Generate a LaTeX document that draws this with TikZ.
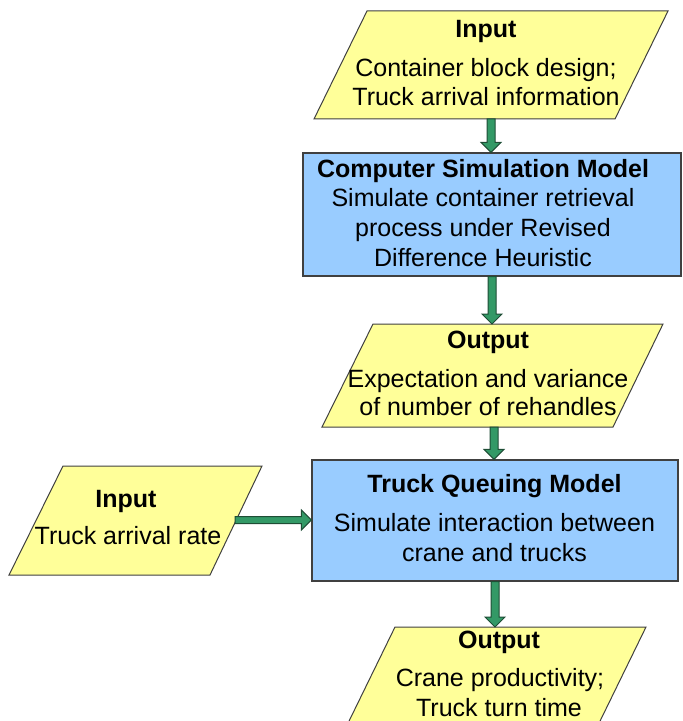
\documentclass[tikz,border=0pt]{standalone}
\usepackage{fontspec}
\setmainfont{Liberation Sans}
\usetikzlibrary{calc}
\definecolor{inyellow}{HTML}{FFFF99}
\definecolor{procblue}{HTML}{99CCFF}
\definecolor{arrgreen}{HTML}{339966}
\definecolor{arrdark}{HTML}{1E4D35}
\definecolor{edgegray}{HTML}{404040}
\newcommand{\downblockarrow}[2]{%
  \draw[blockarrow] let \p1=(#1),\p2=(#2) in
    (\x1-2pt,\y1) -- (\x1-2pt,\y2+5pt) -- (\x1-5pt,\y2+5pt) -- (\x1,\y2)
    -- (\x1+5pt,\y2+5pt) -- (\x1+2pt,\y2+5pt) -- (\x1+2pt,\y1) -- cycle;}
\newcommand{\rightblockarrow}[2]{%
  \draw[blockarrow] let \p1=(#1),\p2=(#2) in
    (\x1,\y1+1.75pt) -- (\x2-5pt,\y1+1.75pt) -- (\x2-5pt,\y1+5pt) -- (\x2,\y1)
    -- (\x2-5pt,\y1-5pt) -- (\x2-5pt,\y1-1.75pt) -- (\x1,\y1-1.75pt) -- cycle;}
\begin{document}
\begin{tikzpicture}[x=0.5pt,y=-0.5pt,
  iobox/.style={fill=inyellow,draw=edgegray,line width=0.5pt},
  procbox/.style={rectangle,fill=procblue,draw=edgegray,line width=0.6pt,inner sep=0pt},
  blockarrow/.style={fill=arrgreen,draw=arrdark,line width=0.5pt,line join=miter},
  title/.style={anchor=base,inner sep=0pt,font=\fontsize{12.5}{15}\selectfont\bfseries},
  body/.style={anchor=base,inner sep=0pt,font=\fontsize{12.5}{15}\selectfont}]
\useasboundingbox (0,0) rectangle (682,721);
\clip (0,0) rectangle (682,721);
% shapes
\filldraw[iobox] (367,11) -- (668,11) -- (615,119) -- (314,119) -- cycle;
\node[procbox,minimum width=189pt,minimum height=61.5pt] (box1) at (492,214.5) {};
\filldraw[iobox] (373,324) -- (663,324) -- (613,427) -- (322,427) -- cycle;
\node[procbox,minimum width=183pt,minimum height=60.5pt] (box2) at (495,520.5) {};
\filldraw[iobox] (63,466) -- (262,466) -- (210,575) -- (9,575) -- cycle;
\filldraw[iobox] (395,627) -- (646,627) -- (581,760) -- (330,760) -- cycle;
% connector end points
\coordinate (in1s) at (491,119);
\coordinate (out1n) at (492,324);
\coordinate (out1s) at (494,427);
\coordinate (in2e) at (235,520);
\coordinate (out2n) at (495,627);
% arrows
\downblockarrow{in1s}{box1.north}
\downblockarrow{box1.south}{out1n}
\downblockarrow{out1s}{box2.north}
\downblockarrow{box2.south}{out2n}
\rightblockarrow{in2e}{box2.west}
% texts
\node[title] (in1t) at (486,38) {Input};
\node[body] (in1a) at (486,77) {Container block design;};
\node[body] (in1b) at (486,106) {Truck arrival information};
\node[title] (b1t) at (483,178) {Computer Simulation Model};
\node[body] (b1a) at (483,207) {Simulate container retrieval};
\node[body] (b1b) at (483,237) {process under Revised};
\node[body] (b1c) at (483,267) {Difference Heuristic};
\node[title] (o1t) at (488,348) {Output};
\node[body] (o1a) at (488,387) {Expectation and variance};
\node[body] (o1b) at (488,415) {of number of rehandles};
\node[title] (b2t) at (494.5,492) {Truck Queuing Model};
\node[body] (b2a) at (494.5,531) {Simulate interaction between};
\node[body] (b2b) at (494.5,561) {crane and trucks};
\node[title] (in2t) at (126,507) {Input};
\node[body] (in2a) at (128,544) {Truck arrival rate};
\node[title] (o2t) at (499,648) {Output};
\node[body] (o2a) at (500,686) {Crane productivity;};
\node[body] (o2b) at (499,716) {Truck turn time};
\end{tikzpicture}
\end{document}
